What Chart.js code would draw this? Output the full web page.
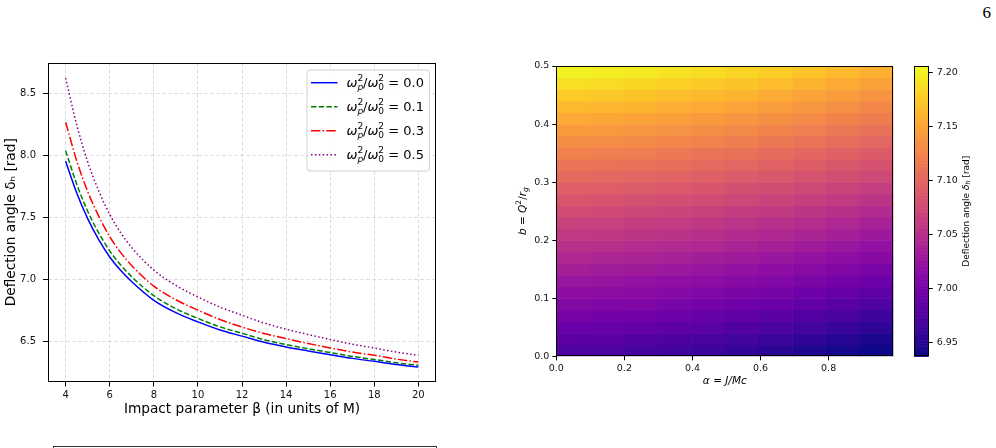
<!DOCTYPE html>
<html>
<head>
<meta charset="utf-8">
<script src="https://cdn.jsdelivr.net/npm/chart.js@4.4.1/dist/chart.umd.min.js"></script>
<style>
  html, body { margin: 0; padding: 0; background: #fff; }
  body { width: 996px; height: 448px; position: relative; overflow: hidden; font-family: "DejaVu Sans", sans-serif; }
  .box { position: absolute; top: 0; height: 448px; }
  #pageNo { position: absolute; right: 5px; top: 3px; font-family: "Liberation Serif", serif; font-size: 17px; color: #000; }
  #tableTop { position: absolute; left: 53px; top: 446px; width: 382px; height: 6px; border: 1px solid #333; border-bottom: none; }
</style>
</head>
<body>
<div id="pageNo">6</div>
<div class="box" style="left:0;width:460px"><canvas id="lineChart"></canvas></div>
<div class="box" style="left:510px;width:390px"><canvas id="heatChart"></canvas></div>
<div class="box" style="left:900px;width:96px"><canvas id="barChart"></canvas></div>
<div id="tableTop"></div>
<script>
// ---- left panel: deflection angle vs impact parameter
var betas   = [4, 4.5, 5, 5.5, 6, 6.5, 7, 8, 9, 10, 11, 12, 13, 14, 15, 16, 17, 18, 19, 20];
var delta00 = [7.955, 7.70, 7.49, 7.32, 7.18, 7.07, 6.98, 6.83, 6.73, 6.655, 6.59, 6.54, 6.49, 6.452, 6.42, 6.39, 6.36, 6.336, 6.31, 6.29];
var delta01 = [8.04, 7.77, 7.55, 7.375, 7.23, 7.115, 7.02, 6.867, 6.762, 6.683, 6.615, 6.563, 6.511, 6.472, 6.438, 6.407, 6.376, 6.351, 6.324, 6.304];
var delta03 = [8.27, 7.96, 7.71, 7.51, 7.345, 7.215, 7.11, 6.944, 6.834, 6.75, 6.674, 6.614, 6.561, 6.52, 6.481, 6.444, 6.411, 6.385, 6.354, 6.33];
var delta05 = [8.627, 8.25, 7.95, 7.715, 7.525, 7.375, 7.255, 7.074, 6.95, 6.857, 6.775, 6.709, 6.646, 6.596, 6.553, 6.512, 6.475, 6.444, 6.411, 6.385];
var ratioLabels = ['0.0', '0.1', '0.3', '0.5'];
var betaTicks  = [4, 6, 8, 10, 12, 14, 16, 18, 20];
var deltaTicks = [6.5, 7.0, 7.5, 8.0, 8.5];

// ---- right panel: deflection angle over (alpha, b)
var alphaCenters = [0.0495, 0.1485, 0.2475, 0.3465, 0.4455, 0.5445, 0.6435, 0.7425, 0.8415, 0.9405];
var bCenters = [0.01, 0.03, 0.05, 0.07, 0.09, 0.11, 0.13, 0.15, 0.17, 0.19, 0.21, 0.23, 0.25,
                0.27, 0.29, 0.31, 0.33, 0.35, 0.37, 0.39, 0.41, 0.43, 0.45, 0.47, 0.49];
var deflectionGrid = [
  [6.973, 6.971, 6.968, 6.965, 6.961, 6.957, 6.952, 6.947, 6.942, 6.937],
  [6.982, 6.980, 6.977, 6.974, 6.970, 6.966, 6.961, 6.956, 6.950, 6.944],
  [6.991, 6.989, 6.986, 6.983, 6.980, 6.975, 6.971, 6.966, 6.960, 6.954],
  [7.000, 6.998, 6.995, 6.992, 6.988, 6.984, 6.980, 6.975, 6.970, 6.963],
  [7.009, 7.007, 7.005, 7.001, 6.998, 6.994, 6.990, 6.985, 6.979, 6.973],
  [7.018, 7.016, 7.014, 7.011, 7.007, 7.003, 6.999, 6.994, 6.989, 6.983],
  [7.026, 7.024, 7.022, 7.019, 7.016, 7.012, 7.008, 7.003, 6.998, 6.992],
  [7.035, 7.033, 7.031, 7.028, 7.025, 7.021, 7.017, 7.013, 7.008, 7.002],
  [7.043, 7.041, 7.039, 7.037, 7.033, 7.030, 7.026, 7.022, 7.017, 7.012],
  [7.051, 7.050, 7.047, 7.045, 7.042, 7.038, 7.035, 7.031, 7.026, 7.021],
  [7.059, 7.058, 7.055, 7.053, 7.050, 7.046, 7.043, 7.039, 7.034, 7.029],
  [7.067, 7.066, 7.063, 7.061, 7.058, 7.054, 7.051, 7.047, 7.042, 7.037],
  [7.076, 7.075, 7.072, 7.070, 7.067, 7.063, 7.060, 7.056, 7.051, 7.046],
  [7.085, 7.084, 7.081, 7.079, 7.076, 7.072, 7.069, 7.065, 7.060, 7.055],
  [7.094, 7.093, 7.090, 7.088, 7.085, 7.081, 7.078, 7.074, 7.069, 7.064],
  [7.103, 7.102, 7.099, 7.097, 7.094, 7.090, 7.087, 7.083, 7.078, 7.073],
  [7.113, 7.111, 7.109, 7.107, 7.103, 7.100, 7.096, 7.092, 7.087, 7.082],
  [7.123, 7.121, 7.119, 7.116, 7.113, 7.110, 7.106, 7.101, 7.096, 7.091],
  [7.133, 7.131, 7.129, 7.126, 7.123, 7.119, 7.115, 7.111, 7.106, 7.100],
  [7.143, 7.141, 7.139, 7.136, 7.133, 7.129, 7.125, 7.120, 7.115, 7.109],
  [7.154, 7.152, 7.150, 7.147, 7.143, 7.139, 7.135, 7.130, 7.125, 7.119],
  [7.165, 7.163, 7.161, 7.157, 7.154, 7.150, 7.145, 7.140, 7.134, 7.128],
  [7.177, 7.175, 7.172, 7.169, 7.165, 7.161, 7.156, 7.150, 7.145, 7.138],
  [7.189, 7.187, 7.184, 7.180, 7.176, 7.172, 7.167, 7.161, 7.155, 7.148],
  [7.201, 7.199, 7.196, 7.192, 7.188, 7.183, 7.178, 7.172, 7.165, 7.158]
];
var alphaTicks = [0, 0.2, 0.4, 0.6, 0.8];
var bTicks     = [0, 0.1, 0.2, 0.3, 0.4, 0.5];
var colorTicks = [6.95, 7.00, 7.05, 7.10, 7.15, 7.20];
var colorMin = 6.937, colorMax = 7.206;

// plasma colormap stops
var plasmaStops = ['#0d0887', '#41049d', '#6a00a8', '#8f0da4', '#b12a90', '#cc4778',
                   '#e16462', '#f2844b', '#fca636', '#fcce25', '#f0f921'];
var hexRgb = function(h) {
    return [parseInt(h.substr(1, 2), 16), parseInt(h.substr(3, 2), 16), parseInt(h.substr(5, 2), 16)];
};
var plasma = function(t) {
    t = Math.max(0, Math.min(1, t));
    var f = t * (plasmaStops.length - 1);
    var i = Math.min(Math.floor(f), plasmaStops.length - 2);
    var a = hexRgb(plasmaStops[i]), b = hexRgb(plasmaStops[i + 1]), k = f - i;
    return 'rgb(' + Math.round(a[0] + (b[0] - a[0]) * k) + ',' + Math.round(a[1] + (b[1] - a[1]) * k) + ',' + Math.round(a[2] + (b[2] - a[2]) * k) + ')';
};

// draws text pieces (normal / italic / raised / lowered) one after another
var drawMath = function(ctx, parts, x, y, size, center) {
    var total = 0;
    var widths = parts.map(function(p) {
        ctx.font = (p.it ? 'italic ' : '') + (p.s || size) + 'px "DejaVu Sans"';
        return ctx.measureText(p.t).width;
    });
    parts.forEach(function(p, i) { if (!p.stack) total += widths[i]; });
    var cx = center ? x - total / 2 : x;
    parts.forEach(function(p, i) {
        ctx.font = (p.it ? 'italic ' : '') + (p.s || size) + 'px "DejaVu Sans"';
        ctx.fillText(p.t, cx, y + (p.dy || 0));
        if (!p.stack) cx += widths[i];
    });
};
var ratioParts = function(val) {
    return [
        {t: 'ω', it: true}, {t: '2', s: 9, dy: -6, stack: true}, {t: 'p', it: true, s: 9, dy: 3},
        {t: '/'},
        {t: 'ω', it: true}, {t: '2', s: 9, dy: -6, stack: true}, {t: '0', s: 9, dy: 3},
        {t: ' = ' + val}
    ];
};

var framePlugin = {
    id: 'frame',
    afterDraw: function(chart) {
        var a = chart.chartArea, ctx = chart.ctx;
        ctx.save();
        ctx.strokeStyle = '#000';
        ctx.lineWidth = 1;
        ctx.strokeRect(Math.round(a.left) + 0.5, Math.round(a.top) + 0.5, Math.round(a.right - a.left) - 1, Math.round(a.bottom - a.top) - 1);
        ctx.restore();
    }
};

// legend box inside the axes, top right
var legendPlugin = {
    id: 'innerLegend',
    afterDraw: function(chart) {
        var ctx = chart.ctx, a = chart.chartArea;
        var bx = a.right - 129, by = a.top + 7, bw = 122.5, bh = 101;
        ctx.save();
        ctx.beginPath();
        ctx.roundRect(bx, by, bw, bh, 3);
        ctx.fillStyle = 'rgba(255,255,255,0.85)';
        ctx.fill();
        ctx.strokeStyle = '#d0d0d0';
        ctx.lineWidth = 1;
        ctx.stroke();
        chart.data.datasets.forEach(function(ds, i) {
            var y = by + 12.7 + i * 24;
            ctx.beginPath();
            ctx.setLineDash(ds.borderDash || []);
            ctx.strokeStyle = ds.borderColor;
            ctx.lineWidth = ds.borderWidth;
            ctx.moveTo(bx + 4, y);
            ctx.lineTo(bx + 30.5, y);
            ctx.stroke();
            ctx.setLineDash([]);
            ctx.fillStyle = '#000';
            ctx.textBaseline = 'alphabetic';
            drawMath(ctx, ratioParts(ratioLabels[i]), bx + 39.5, y + 4.5, 13, false);
        });
        ctx.restore();
    }
};

var mkSeries = function(ys) {
    return ys.map(function(v, i) { return {x: betas[i], y: v}; });
};

new Chart(document.getElementById('lineChart'), {
    type: 'line',
    data: {
        datasets: [
            {label: ratioLabels[0], data: mkSeries(delta00), borderColor: '#0000ff', borderWidth: 1.5, borderDash: []},
            {label: ratioLabels[1], data: mkSeries(delta01), borderColor: '#008000', borderWidth: 1.5, borderDash: [5.4, 2.3]},
            {label: ratioLabels[2], data: mkSeries(delta03), borderColor: '#ff0000', borderWidth: 1.5, borderDash: [9.3, 2.3, 1.5, 2.3]},
            {label: ratioLabels[3], data: mkSeries(delta05), borderColor: '#800080', borderWidth: 1.5, borderDash: [1.5, 2.4]}
        ]
    },
    options: {
        responsive: true,
        maintainAspectRatio: false,
        animation: false,
        parsing: false,
        elements: {point: {radius: 0}, line: {cubicInterpolationMode: 'monotone', fill: false}},
        layout: {padding: {top: 63, right: 24, bottom: 30, left: 0}},
        plugins: {legend: {display: false}, tooltip: {enabled: false}},
        scales: {
            x: {
                type: 'linear', min: 3.2, max: 20.8,
                afterBuildTicks: function(s) { s.ticks = betaTicks.map(function(v) { return {value: v}; }); },
                afterFit: function(s) { s.height = 36.5; },
                grid: {color: 'rgba(176,176,176,0.5)', lineWidth: 0.8, tickColor: '#000', tickWidth: 1, tickLength: 5, tickBorderDash: []},
                border: {display: false, dash: [4, 2]},
                ticks: {color: '#111', font: {size: 10, family: 'DejaVu Sans'}, padding: 3, maxRotation: 0,
                        callback: function(v) { return String(v); }},
                title: {display: true, text: 'Impact parameter β (in units of M)', color: '#000',
                        font: {size: 13.7, family: 'DejaVu Sans'}, padding: 0}
            },
            y: {
                type: 'linear', min: 6.173, max: 8.749,
                afterBuildTicks: function(s) { s.ticks = deltaTicks.map(function(v) { return {value: v}; }); },
                afterFit: function(s) { s.width = 48; },
                grid: {color: 'rgba(176,176,176,0.5)', lineWidth: 0.8, tickColor: '#000', tickWidth: 1, tickLength: 5, tickBorderDash: []},
                border: {display: false, dash: [4, 2]},
                ticks: {color: '#111', font: {size: 10, family: 'DejaVu Sans'}, padding: 7,
                        callback: function(v) { return v.toFixed(1); }},
                title: {display: true, text: 'Deflection angle δₕ [rad]', color: '#000',
                        font: {size: 13.7, family: 'DejaVu Sans'}, padding: {top: 3.5, bottom: 0}}
            }
        }
    },
    plugins: [framePlugin, legendPlugin]
});

// ---- heat map
var heatPoints = [];
bCenters.forEach(function(b, i) {
    alphaCenters.forEach(function(al, j) {
        heatPoints.push({x: al, y: b, v: deflectionGrid[i][j]});
    });
});

var heatCells = {
    id: 'heatCells',
    beforeDatasetsDraw: function(chart) {
        var ctx = chart.ctx, xs = chart.scales.x, ys = chart.scales.y, a = chart.chartArea;
        var hw = 0.0495, hh = 0.01;
        ctx.save();
        ctx.beginPath();
        ctx.rect(a.left, a.top, a.right - a.left, a.bottom - a.top);
        ctx.clip();
        chart.data.datasets[0].data.forEach(function(p) {
            var x0 = xs.getPixelForValue(p.x - hw), x1 = xs.getPixelForValue(p.x + hw);
            var y0 = ys.getPixelForValue(p.y + hh), y1 = ys.getPixelForValue(p.y - hh);
            ctx.fillStyle = plasma((p.v - colorMin) / (colorMax - colorMin));
            ctx.fillRect(x0, y0, x1 - x0 + 0.6, y1 - y0 + 0.6);
        });
        ctx.restore();
        // y title b = Q^2/r_g
        ctx.save();
        ctx.translate(a.left - 33, (a.top + a.bottom) / 2);
        ctx.rotate(-Math.PI / 2);
        ctx.fillStyle = '#000';
        ctx.textBaseline = 'middle';
        drawMath(ctx, [{t: 'b', it: true}, {t: ' = '}, {t: 'Q', it: true}, {t: '2', s: 7.5, dy: -4.5},
                       {t: '/'}, {t: 'r', it: true}, {t: 'g', it: true, s: 7.5, dy: 2.5}], 0, 0, 10.5, true);
        ctx.restore();
    }
};

var plainAxis = function(min, max, tickList, digits, fit) {
    return {
        type: 'linear', min: min, max: max,
        afterBuildTicks: function(s) { s.ticks = tickList.map(function(v) { return {value: v}; }); },
        afterFit: fit,
        grid: {drawOnChartArea: false, color: '#000', tickColor: '#000', tickWidth: 1, tickLength: 4},
        border: {display: false},
        ticks: {color: '#111', font: {size: 9.5, family: 'DejaVu Sans'}, padding: 2.5, maxRotation: 0,
                callback: function(v) { return v.toFixed(digits); }}
    };
};

var heatX = plainAxis(0, 0.99, alphaTicks, 1, function(s) { s.height = 31.4; });
heatX.title = {display: true, text: 'α = J/Mc', color: '#000', font: {size: 10.5, style: 'italic', family: 'DejaVu Sans'}, padding: 0};
var heatY = plainAxis(0, 0.5, bTicks, 1, function(s) { s.width = 46.3; });
heatY.ticks.padding = 3;

new Chart(document.getElementById('heatChart'), {
    type: 'scatter',
    data: {datasets: [{data: heatPoints, pointRadius: 0, showLine: false}]},
    options: {
        responsive: true,
        maintainAspectRatio: false,
        animation: false,
        layout: {padding: {top: 66, right: 6.7, bottom: 60.3, left: 0}},
        plugins: {legend: {display: false}, tooltip: {enabled: false}},
        scales: {x: heatX, y: heatY}
    },
    plugins: [heatCells, framePlugin]
});

// ---- colour bar
var colorStrip = {
    id: 'colorStrip',
    beforeDraw: function(chart) {
        var ctx = chart.ctx, ys = chart.scales.y, a = chart.chartArea;
        var n = 200;
        ctx.save();
        for (var k = 0; k < n; k++) {
            var v0 = colorMin + (colorMax - colorMin) * k / n;
            var v1 = colorMin + (colorMax - colorMin) * (k + 1) / n;
            var p0 = ys.getPixelForValue(v0), p1 = ys.getPixelForValue(v1);
            ctx.fillStyle = plasma(k / (n - 1));
            ctx.fillRect(a.left, p1, a.right - a.left, p0 - p1 + 0.6);
        }
        ctx.restore();
    },
    afterDraw: function(chart) {
        var ctx = chart.ctx, a = chart.chartArea;
        ctx.save();
        ctx.translate(a.right + 37.5, (a.top + a.bottom) / 2);
        ctx.rotate(-Math.PI / 2);
        ctx.fillStyle = '#000';
        ctx.textBaseline = 'middle';
        drawMath(ctx, [{t: 'Deflection angle '}, {t: 'δ', it: true}, {t: 'h', it: true, s: 6.5, dy: 2},
                       {t: ' [rad]'}], 0, 0, 9, true);
        ctx.restore();
    }
};

var barY = plainAxis(colorMin, colorMax, colorTicks, 2, function(s) { s.width = 67.3; });
barY.position = 'right';
barY.ticks.padding = 4;

new Chart(document.getElementById('barChart'), {
    type: 'scatter',
    data: {datasets: []},
    options: {
        responsive: true,
        maintainAspectRatio: false,
        animation: false,
        layout: {padding: {top: 66, right: 0, bottom: 91.7, left: 14}},
        plugins: {legend: {display: false}, tooltip: {enabled: false}},
        scales: {x: {type: 'linear', display: false, min: 0, max: 1}, y: barY}
    },
    plugins: [colorStrip, framePlugin]
});
</script>
</body>
</html>
